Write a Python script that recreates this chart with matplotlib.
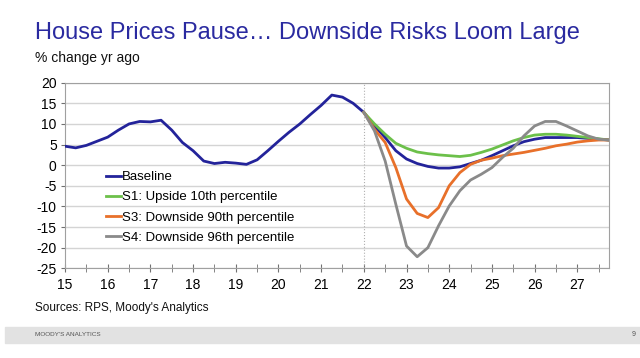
import matplotlib.pyplot as plt
import numpy as np

plt.rcParams['font.family'] = ['Liberation Sans', 'DejaVu Sans']
plt.rcParams['axes.unicode_minus'] = False

# quarterly time axis: 15 = 2015Q1 ... 27.75 = 2027Q4
t_hist = np.arange(15, 22.01, 0.25)
t_fc = np.arange(22, 27.76, 0.25)

baseline_hist = [4.6, 4.2, 4.8, 5.8, 6.8, 8.5, 10.0, 10.6, 10.5, 10.9, 8.5, 5.5,
                 3.5, 1.0, 0.4, 0.7, 0.5, 0.2, 1.3, 3.5, 5.8, 8.0, 10.0, 12.3,
                 14.5, 17.0, 16.5, 15.0, 12.8]
baseline_fc = [12.8, 9.5, 6.7, 3.5, 1.5, 0.4, -0.3, -0.7, -0.7, -0.4, 0.4, 1.2,
               2.3, 3.5, 4.7, 5.7, 6.3, 6.7, 6.7, 6.7, 6.7, 6.5, 6.3, 6.1]
s1 = [12.8, 10.0, 7.5, 5.3, 4.1, 3.2, 2.8, 2.5, 2.3, 2.1, 2.4, 3.1,
      3.9, 4.9, 5.9, 6.7, 7.3, 7.5, 7.5, 7.3, 7.0, 6.7, 6.4, 6.1]
s3 = [12.8, 8.7, 5.5, -0.6, -8.2, -11.7, -12.7, -10.3, -5.0, -1.8, 0.2, 1.2,
      1.7, 2.3, 2.7, 3.1, 3.6, 4.1, 4.7, 5.1, 5.6, 5.9, 6.1, 6.1]
s4 = [12.8, 8.3, 1.0, -9.5, -19.6, -22.2, -20.0, -14.7, -9.9, -6.2, -3.6, -2.2,
      -0.6, 1.9, 4.1, 7.1, 9.5, 10.6, 10.6, 9.5, 8.3, 7.1, 6.3, 6.1]

labels = ['Baseline', 'S1: Upside 10th percentile',
          'S3: Downside 90th percentile', 'S4: Downside 96th percentile']
colors = ['#23239a', '#6cc04a', '#e8702a', '#8a8a8a']

fig = plt.figure(figsize=(6.4, 3.58), dpi=100)
ax = fig.add_axes([0.1016, 0.2506, 0.8504, 0.5184])

t_base = np.concatenate([t_hist, t_fc[1:]])
base = baseline_hist + baseline_fc[1:]
ax.plot(t_base, base, color=colors[0], lw=2, label=labels[0], zorder=3)
ax.plot(t_fc, s1, color=colors[1], lw=2, label=labels[1], zorder=3)
ax.plot(t_fc, s3, color=colors[2], lw=2, label=labels[2], zorder=3)
ax.plot(t_fc, s4, color=colors[3], lw=2, label=labels[3], zorder=3)

ax.axvline(22, color='#b0b0b0', lw=0.8, ls=':', zorder=1)

ax.set_xlim(15, 27.75)
ax.set_ylim(-25, 20)
ax.set_yticks(np.arange(-25, 21, 5))
ax.set_xticks(np.arange(15, 28, 1))
ax.set_xticklabels([str(y) for y in range(15, 28)])
ax.set_xticks(np.arange(15.5, 27.6, 1), minor=True)
ax.yaxis.grid(True, color='#d4d4d4', lw=1)
ax.set_axisbelow(True)
for s in ax.spines.values():
    s.set_color('#a0a0a0')
ax.tick_params(axis='x', which='both', direction='inout', length=6,
               color='#707070', labelsize=10, pad=4)
ax.tick_params(axis='y', direction='out', length=3, color='#707070',
               labelsize=10, pad=3)

ax.legend(loc='upper left', bbox_to_anchor=(106 / 640, 1 - 171 / 358),
          bbox_transform=fig.transFigure, frameon=False, fontsize=9.5,
          handlelength=1.1, handletextpad=0.1, labelspacing=0.6,
          borderpad=0, borderaxespad=0)

fig.text(35 / 640, 1 - 33 / 358, 'House Prices Pause\u2026 Downside Risks Loom Large',
         color='#2a2aa0', fontsize=17, va='center')
fig.text(35 / 640, 1 - 58 / 358, '% change yr ago', fontsize=10, va='center',
         color='#111111')
fig.text(35 / 640, 1 - 308 / 358, "Sources: RPS, Moody's Analytics",
         fontsize=8.5, va='center', color='#111111')

# footer band
fig.patches.append(plt.Rectangle((5 / 640, 1 - 343 / 358), 635 / 640, 16 / 358,
                                 transform=fig.transFigure, color='#e2e2e2',
                                 zorder=0))
fig.text(35 / 640, 1 - 335 / 358, "MOODY'S ANALYTICS", fontsize=4.6,
         va='center', color='#555555')
fig.text(632 / 640, 1 - 335 / 358, '9', fontsize=5, va='center',
         color='#555555')

fig.savefig('out.png', dpi=100)
